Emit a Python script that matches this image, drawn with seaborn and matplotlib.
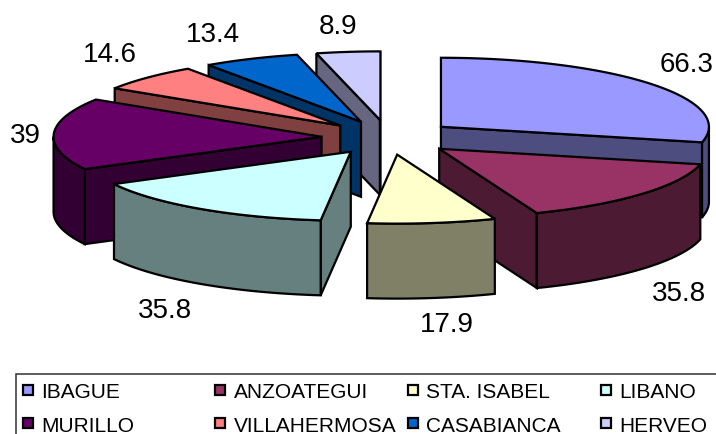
import numpy as np
import matplotlib
matplotlib.use("Agg")
import matplotlib.pyplot as plt
from matplotlib.patches import Polygon, Rectangle
import seaborn as sns

# Municipalities and their values, clockwise from twelve o'clock
towns = ["IBAGUE", "ANZOATEGUI", "STA. ISABEL", "LIBANO",
         "MURILLO", "VILLAHERMOSA", "CASABIANCA", "HERVEO"]
values = [66.3, 35.8, 17.9, 35.8, 39, 14.6, 13.4, 8.9]
value_labels = ["66.3", "35.8", "17.9", "35.8", "39", "14.6", "13.4", "8.9"]
top_colors = ["#9999FF", "#993366", "#FFFFCC", "#CCFFFF",
              "#660066", "#FF8080", "#0066CC", "#CCCCFF"]

# Projection of the tilted, exploded pie
CX, CY = 388.5, 137.5
RX, RY = 268.0, 69.0
EXPLODE = 0.25
DEPTH = 75.0
EDGE = 1.6

# Back-to-front painting order and label anchors
draw_order = [7, 6, 5, 4, 3, 0, 1, 2]
label_xy = [(687, 65), (679, 294), (447, 325), (165, 311),
            (25, 136), (110, 55), (213, 35), (338, 27)]

# Legend layout
legend_x = [27.5, 220, 412.5, 606]
legend_y = [391, 424]

sns.set_theme(style="white")
plt.rcParams["font.family"] = ["Liberation Sans", "DejaVu Sans"]
palette = sns.color_palette(top_colors)
side_palette = [tuple(c * 0.5 for c in col) for col in palette]

fig = plt.figure(figsize=(7.16, 4.34), dpi=100)
ax = fig.add_axes([0, 0, 1, 1])
ax.set_xlim(0, 716)
ax.set_ylim(434, 0)
ax.axis("off")


def rim(deg):
    """Offset of a rim point, angle measured clockwise from the top."""
    t = np.radians(deg)
    return np.column_stack([RX * np.sin(t), -RY * np.cos(t)])


def extrude(path):
    """Closed wall hanging below a polyline on the top face."""
    return np.vstack([path, path[::-1] + [0, DEPTH]])


def draw_face(points, color, z):
    ax.add_patch(Polygon(points, closed=True, facecolor=color, edgecolor="black",
                         linewidth=EDGE, joinstyle="miter", zorder=z))


bounds = np.concatenate([[0], np.cumsum(values)]) / np.sum(values) * 360
for layer, i in enumerate(draw_order):
    start, end = bounds[i], bounds[i + 1]
    apex = np.array([CX, CY]) + EXPLODE * rim((start + end) / 2)[0]
    arc_deg = np.linspace(start, end, 80)
    arc = apex + rim(arc_deg)
    z = layer * 10

    # Radial walls that face the viewer
    for edge_pt, other_pt in ((arc[0], arc[-1]), (arc[-1], arc[0])):
        d = edge_pt - apex
        q = other_pt - apex
        down = d[0]
        toward_other = d[0] * q[1] - d[1] * q[0]
        if down * toward_other < 0:
            draw_face(extrude(np.array([apex, edge_pt])), side_palette[i], z + 1)

    # Curved outer wall on the near half of the ellipse
    lo, hi = max(start, 90), min(end, 270)
    if hi > lo:
        near = apex + rim(np.linspace(lo, hi, 80))
        draw_face(extrude(near), side_palette[i], z + 2)

    # Top face
    draw_face(np.vstack([apex, arc]), palette[i], z + 3)

for (x, y), text in zip(label_xy, value_labels):
    ax.text(x, y, text, fontsize=20, ha="center", va="center",
            color="black", zorder=200)

# Legend frame runs past the right and bottom of the canvas
ax.add_patch(Rectangle((15.5, 373.5), 720, 80, facecolor="white", edgecolor="#303030",
                       linewidth=1.1, zorder=150, clip_on=True))
for i, town in enumerate(towns):
    row, col = divmod(i, 4)
    x, y = legend_x[col], legend_y[row]
    ax.add_patch(Rectangle((x - 5, y - 6), 10, 10, facecolor=palette[i],
                           edgecolor="black", linewidth=1.6, zorder=160))
    ax.text(x + 13.5, y, town, fontsize=15, ha="left", va="center_baseline",
            color="black", zorder=160)

fig.savefig("out.png", dpi=100, facecolor="white")
